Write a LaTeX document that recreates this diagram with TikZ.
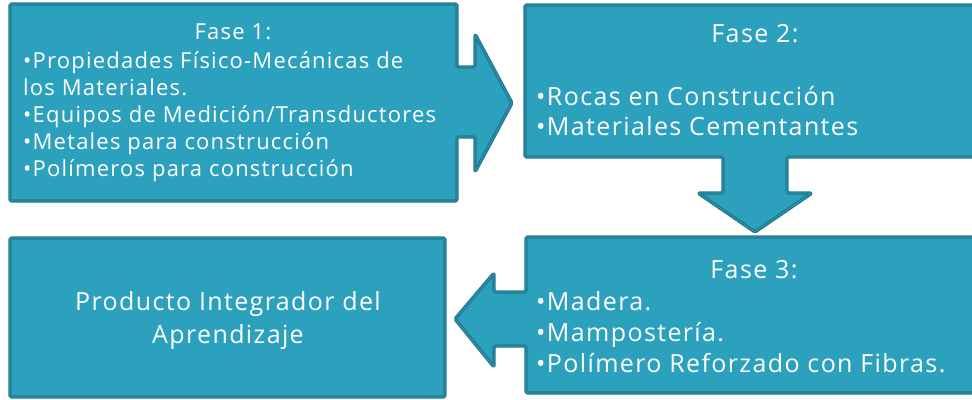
\documentclass[tikz,border=0pt]{standalone}
\usepackage{fontspec}
\setmainfont[LetterSpace=5.5]{Open Sans}
\usepackage{tikz}
\usetikzlibrary{positioning}
\definecolor{bleu}{RGB}{44,161,190}
\definecolor{bord}{RGB}{31,122,145}
\definecolor{lisere}{RGB}{52,148,172}

\begin{document}
\begin{tikzpicture}[x=1pt,y=-1pt,line join=round,
  bloc/.style={fill=bleu,draw=bord,line width=1.3pt,double=lisere,double distance=0.8pt,rounded corners=1.5pt},
  texte/.style={text=white,inner sep=0pt,font=\fontsize{25}{31}\selectfont}]
\useasboundingbox (0,0) rectangle (972,399);
\clip (0,0) rectangle (972,399);
% Fase 1 + flèche droite
\draw[bloc] (10,4)--(457,4)--(457,67)--(475,67)--(475,34)--(512,103)--(475,172)--(475,137)--(457,137)--(457,201)--(10,201)--cycle;
% Fase 2 + flèche bas
\draw[bloc] (525,5)--(980,5)--(980,157)--(787,157)--(787,193)--(812,193)--(755,232)--(698,193)--(723,193)--(723,157)--(525,157)--cycle;
% Fase 3 + flèche gauche
\draw[bloc] (526,237)--(980,237)--(980,393)--(526,393)--(526,346)--(494,346)--(494,367)--(455,319)--(494,273)--(494,292)--(526,292)--cycle;
% Produit
\draw[bloc] (10,238) rectangle (445,397);
% textes (ancre base = dernière ligne)
\node[texte,anchor=base,font=\fontsize{22}{27}\selectfont](F1) at (233,39){Fase 1:};
\node[texte,align=left,anchor=base west,font=\fontsize{22}{27}\selectfont](L1) at (23,176){•Propiedades Físico-Mecánicas de\\los Materiales.\\•Equipos de Medición/Transductores\\•Metales para construcción\\•Polímeros para construcción};
\node[texte,anchor=base](F2) at (755,42){Fase 2:};
\node[texte,align=left,anchor=base west,font=\fontsize{25}{30}\selectfont](L2) at (536,135){•Rocas en Construcción\\•Materiales Cementantes};
\node[texte,anchor=base](F3) at (754,278){Fase 3:};
\node[texte,align=left,anchor=base west](L3) at (536,372){•Madera.\\•Mampostería.\\•Polímero Reforzado con Fibras.};
\node[texte,align=center,anchor=base,font=\fontsize{25}{33}\selectfont](P) at (228,343){Producto Integrador del\\Aprendizaje};
\end{tikzpicture}
\end{document}
